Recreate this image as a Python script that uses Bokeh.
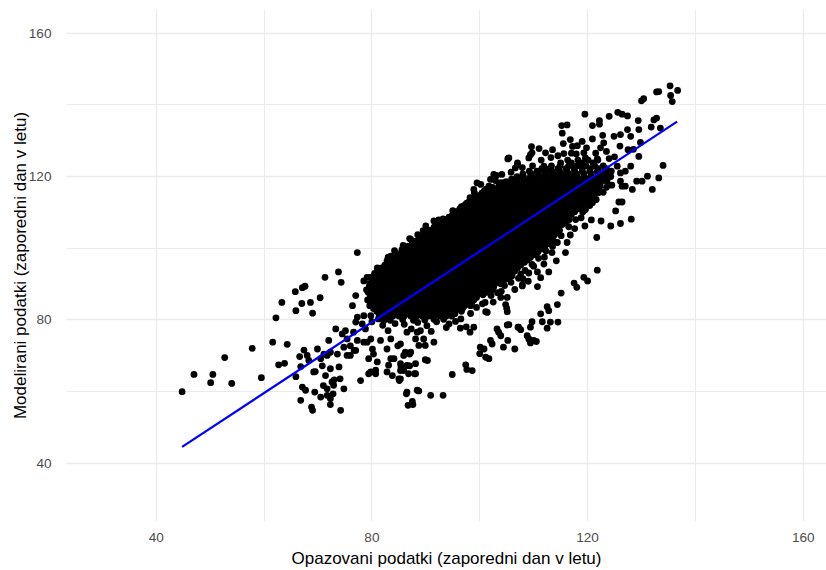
from bokeh.plotting import figure
from bokeh.models import FixedTicker
from bokeh.embed import file_html
from bokeh.resources import INLINE

# ---- axis ticks -------------------------------------------------------
x_ticks = [40, 80, 120, 160]
y_ticks = [40, 80, 120, 160]
minor_ticks = [20, 60, 100, 140]

# ---- fitted regression line -------------------------------------------
fit_obs = [44.8, 136.6]
fit_mod = [44.6, 135.3]

# ---- scattered points, (observed, modelled) ---------------------------
left_tail = [(44.8, 60.0), (47.0, 64.8), (50.1, 62.5), (50.5, 64.8), (52.7, 69.5),
             (54.0, 62.3), (57.8, 72.1), (59.5, 63.9), (61.6, 73.8), (62.2, 80.6),
             (63.3, 84.9), (62.7, 67.5), (63.8, 67.9), (64.3, 73.2)]

upper_left = [(65.8, 87.9), (65.9, 82.6), (67.0, 84.6), (67.6, 89.4), (67.1, 89.0),
              (68.6, 84.9), (69.0, 81.9), (70.4, 86.2), (74.3, 90.5), (71.3, 91.9),
              (73.8, 93.4), (77.3, 98.8), (77.0, 86.8), (76.4, 84.0), (77.3, 80.8),
              (79.8, 81.2), (78.5, 90.9), (79.7, 91.9), (79.1, 91.9)]

low_cluster = [(65.9, 64.2), (66.6, 69.8), (66.8, 67.0), (66.8, 57.6), (67.4, 71.6),
               (67.1, 61.3), (67.7, 60.4), (68.0, 70.1), (68.3, 68.7), (69.0, 54.8),
               (68.8, 55.7), (69.4, 59.9), (69.5, 65.6), (69.9, 71.9), (70.5, 58.5),
               (70.8, 67.2), (71.0, 61.7), (71.1, 70.5), (71.4, 64.5), (71.7, 60.8),
               (72.0, 74.3), (72.3, 66.4), (72.6, 62.7), (72.8, 59.4), (72.3, 56.4),
               (73.0, 63.3), (73.3, 77.5), (73.6, 70.5), (73.9, 66.9), (74.1, 63.6),
               (74.2, 54.8), (74.5, 76.1), (74.8, 60.8), (75.1, 77.0), (75.4, 70.1),
               (76.0, 72.8), (76.7, 71.5), (77.0, 79.4), (77.3, 74.3), (77.9, 63.1),
               (78.2, 78.9), (78.5, 81.2), (78.8, 77.5), (79.1, 73.8), (79.4, 69.2),
               (79.8, 65.5), (71.7, 59.0), (72.3, 58.1), (72.9, 61.8), (69.2, 65.5),
               (70.5, 69.2), (71.7, 70.1), (72.3, 71.0), (74.8, 72.4), (75.4, 74.7),
               (76.6, 76.6), (76.0, 70.1), (77.0, 71.5), (78.5, 73.8), (79.8, 74.7)]

mid_low = [(80.3, 70.5), (80.7, 66.0), (81.0, 68.3), (81.6, 74.3), (82.2, 79.8),
           (82.8, 71.9), (83.1, 67.4), (83.5, 74.7), (83.8, 64.5), (84.1, 69.2),
           (84.8, 72.8), (85.1, 63.1), (85.4, 66.9), (86.4, 59.4), (86.7, 56.2),
           (87.6, 56.4), (87.0, 70.5), (87.9, 65.0), (88.4, 60.4), (80.1, 71.9),
           (83.5, 69.2), (85.9, 70.1), (87.2, 71.0), (88.7, 72.9), (89.6, 74.7),
           (90.3, 68.7), (88.1, 67.8), (86.5, 67.3), (85.3, 67.8), (82.8, 65.5),
           (85.3, 65.9), (86.8, 65.0), (88.1, 65.0), (85.0, 63.6), (79.4, 65.0),
           (80.7, 65.0), (86.5, 59.9), (87.5, 57.3), (88.7, 60.2), (85.3, 63.6),
           (87.0, 67.2), (89.9, 68.9), (85.9, 65.9), (91.5, 73.8), (88.1, 74.7),
           (88.4, 76.6), (89.9, 72.9), (86.2, 71.0), (85.3, 73.3), (86.5, 76.6),
           (89.0, 77.0), (90.9, 59.0), (93.2, 59.0), (94.3, 78.9), (96.4, 77.7),
           (97.5, 78.1), (98.2, 76.6)]

core_fringe = [(82.0, 78.5), (84.3, 79.0), (86.0, 78.8), (88.5, 79.3), (90.2, 78.4),
               (92.0, 79.5), (93.8, 77.9), (95.5, 79.6), (91.0, 76.8), (87.3, 77.5),
               (83.0, 77.0), (80.0, 79.5), (100.5, 84.5), (102.5, 85.0), (104.0, 88.0),
               (106.5, 88.5), (108.0, 91.5), (110.0, 95.0), (112.0, 97.5), (113.5, 100.5),
               (109.0, 90.8), (104.8, 84.3), (111.3, 91.8), (114.2, 96.5), (116.8, 103.7),
               (117.6, 105.5), (118.8, 108.5), (119.6, 110.8), (117.8, 112.0), (122.0, 115.5),
               (123.5, 117.0), (88.5, 103.8), (90.0, 106.2), (92.4, 107.9), (95.0, 110.5),
               (99.0, 115.5), (100.2, 117.8), (89.5, 104.9), (83.5, 97.8), (81.0, 94.5),
               (80.5, 93.0), (81.2, 80.3), (83.4, 79.9), (85.7, 80.1), (87.7, 79.9),
               (89.8, 80.0), (91.5, 80.2), (93.3, 80.2)]

top_fringe = [(83.0, 97.5), (84.2, 99.3), (85.8, 100.8), (87.5, 101.5), (88.8, 103.0),
              (90.3, 104.8), (91.8, 106.9), (93.2, 108.2), (94.9, 109.1), (96.6, 111.6),
              (98.0, 112.9), (99.6, 114.5), (101.2, 116.5), (102.9, 118.9), (104.1, 120.6),
              (105.8, 121.2), (107.9, 122.5), (109.8, 123.0), (111.4, 124.6), (113.2, 125.3),
              (115.6, 126.4), (117.9, 126.3), (119.6, 125.2), (121.8, 124.9), (124.0, 125.0)]

bottom_fringe = [(96.5, 80.3), (98.3, 81.8), (99.4, 83.5), (101.0, 84.9), (102.1, 86.8),
                 (103.3, 87.6), (104.6, 89.6), (105.8, 90.5), (107.2, 91.6), (108.4, 93.8),
                 (109.7, 95.5), (110.9, 97.2), (112.3, 99.2), (113.8, 101.8), (115.1, 103.5),
                 (116.5, 106.0), (117.8, 108.0), (119.1, 110.1), (120.4, 111.9), (121.6, 113.6),
                 (122.9, 115.6), (124.5, 117.6)]

low_arm = [(94.9, 64.8), (97.4, 67.5), (97.6, 66.2), (98.6, 65.9), (100.1, 72.4),
           (100.0, 70.6), (100.8, 71.9), (101.1, 69.6), (101.7, 69.2), (102.0, 74.3),
           (102.3, 73.3), (103.2, 77.5), (103.5, 76.6), (103.9, 75.6), (104.4, 72.4),
           (105.2, 74.3), (106.5, 71.9), (105.4, 78.7), (107.1, 78.0), (107.6, 77.3),
           (108.8, 75.6), (109.1, 74.7), (109.4, 73.6), (110.0, 74.3), (110.5, 74.0),
           (109.4, 78.0), (109.7, 79.5), (111.6, 79.5), (112.5, 77.7), (111.3, 81.7),
           (112.5, 83.7), (112.8, 82.6), (114.4, 84.3), (114.5, 79.4), (115.1, 87.5),
           (117.5, 90.3), (118.0, 89.1), (119.3, 91.9), (120.0, 90.9), (121.8, 93.9),
           (110.7, 89.3), (107.9, 89.8), (105.0, 83.3), (105.1, 82.3), (103.9, 86.3),
           (101.1, 82.3), (105.1, 78.6), (107.2, 78.0), (105.1, 86.3), (107.6, 92.8),
           (110.7, 93.4), (112.8, 93.4), (109.1, 93.1), (101.4, 82.1), (98.9, 78.0),
           (106.0, 92.3), (107.9, 89.5), (111.9, 95.6), (113.1, 79.4)]

below_right = [(114.1, 106.7), (115.6, 107.1), (116.2, 101.6), (114.4, 101.6), (112.5, 104.4),
               (113.4, 98.8), (115.9, 98.8), (115.0, 109.9), (114.0, 105.3), (120.7, 107.9),
               (119.5, 106.2), (122.5, 107.6), (124.3, 106.2), (121.7, 103.0), (120.9, 112.7),
               (120.7, 114.1), (126.1, 106.9), (128.1, 108.1), (125.2, 110.4), (125.8, 112.9),
               (126.4, 112.9), (126.1, 118.7), (123.6, 119.2), (126.4, 117.3), (127.0, 117.3),
               (128.3, 116.4), (132.0, 116.4), (129.1, 118.7), (130.1, 118.7), (131.1, 120.1),
               (133.2, 119.6), (134.0, 123.1), (126.1, 121.0), (127.0, 121.5), (125.5, 122.9),
               (128.0, 122.9), (129.5, 125.6)]

upper_right = [(135.3, 145.3), (136.7, 144.0), (135.4, 142.6), (135.7, 140.9), (133.2, 143.7),
               (132.8, 143.6), (130.4, 141.7), (130.0, 141.1), (119.5, 137.4), (120.9, 134.2),
               (122.2, 135.6), (122.2, 134.6), (124.0, 136.8), (125.6, 137.9), (126.4, 137.4),
               (127.4, 136.9), (129.4, 135.6), (132.8, 136.3), (132.3, 135.8), (131.8, 133.8),
               (129.5, 133.1), (116.2, 134.4), (115.3, 132.1), (116.8, 130.3), (118.1, 128.6),
               (120.9, 130.5), (119.3, 126.6), (119.0, 129.8), (122.4, 128.0), (123.0, 129.4),
               (124.9, 131.2), (126.1, 131.7), (127.4, 133.1), (128.0, 131.2), (129.8, 129.5),
               (133.5, 133.5), (115.5, 129.2), (117.2, 128.4), (115.2, 134.2), (109.6, 128.3),
               (112.2, 126.6), (109.1, 125.2), (109.7, 126.6), (105.2, 124.9), (107.0, 123.8),
               (105.4, 125.2), (109.4, 126.1), (111.9, 122.9), (121.5, 126.5), (123.5, 127.0),
               (125.0, 125.5), (127.5, 127.5), (126.0, 128.5), (122.8, 131.5), (119.8, 128.0),
               (117.0, 126.5), (113.5, 127.5), (114.5, 125.8), (111.0, 127.8), (128.5, 127.6)]

upper_edge = [(103.1, 120.3), (99.5, 118.2), (98.2, 114.1), (106.6, 122.4), (91.5, 107.6),
              (91.4, 104.4), (94.6, 106.2), (98.9, 116.4), (101.7, 117.3), (102.0, 119.2),
              (103.9, 118.3), (97.4, 112.2), (96.1, 109.4), (92.7, 105.8), (93.6, 104.4),
              (87.2, 102.5), (85.6, 99.7), (84.7, 96.9), (82.8, 96.5), (81.9, 92.3),
              (96.1, 109.9), (97.7, 112.2), (100.8, 115.9), (102.6, 120.6), (104.5, 118.3),
              (107.0, 123.3), (94.3, 105.3), (87.0, 102.7), (86.2, 97.9), (84.7, 95.1)]

# ---- dense core, read as rows: one modelled value per row, observed values
core_mod = [81.1, 82.4, 84.0, 85.6, 87.0, 88.4, 90.1, 91.5, 92.9, 94.5,
            96.1, 97.4, 99.0, 100.6, 102.0, 103.4, 105.0, 106.6, 108.0, 109.4,
            111.0, 112.6, 114.0, 115.4, 117.0, 118.6, 120.0, 121.5, 123.0, 124.6]

core_obs = [
    [81.6, 82.7, 83.9, 85.0, 86.0, 87.2, 88.3, 89.3, 90.5, 91.6, 92.6, 93.8, 94.8],
    [80.9, 82.1, 83.3, 84.3, 85.5, 86.6, 87.6, 88.8, 89.9, 91.1, 92.1, 93.2, 94.4, 95.4, 96.6],
    [79.6, 80.7, 81.8, 82.9, 84.0, 85.1, 86.2, 87.3, 88.4, 89.5, 90.6, 91.8, 92.8, 93.9, 95.0, 96.1, 97.2, 98.3],
    [79.2, 80.2, 81.4, 82.4, 83.6, 84.6, 85.7, 86.8, 87.9, 89.0, 90.1, 91.2, 92.3, 93.4, 94.5, 95.6, 96.7, 97.8, 98.9],
    [79.8, 80.9, 82.0, 83.1, 84.1, 85.3, 86.3, 87.4, 88.5, 89.6, 90.7, 91.8, 92.9, 94.0, 95.0, 96.2, 97.3, 98.3, 99.5, 100.6],
    [79.0, 80.3, 81.4, 82.5, 83.5, 84.7, 85.8, 86.9, 88.0, 89.1, 90.2, 91.3, 92.4, 93.4, 94.6, 95.7, 96.8, 97.8, 99.0, 100.1, 101.1, 102.3],
    [79.6, 80.8, 81.9, 83.0, 84.1, 85.2, 86.3, 87.4, 88.5, 89.6, 90.7, 91.9, 92.9, 94.0, 95.1, 96.2, 97.3, 98.4, 99.5, 100.6, 101.7, 102.8, 103.9],
    [80.1, 81.2, 82.4, 83.4, 84.6, 85.6, 86.8, 87.9, 89.0, 90.1, 91.2, 92.2, 93.4, 94.5, 95.5, 96.7, 97.8, 98.8, 100.0, 101.1, 102.2, 103.3, 104.3, 105.4],
    [80.9, 81.9, 83.0, 84.1, 85.2, 86.3, 87.3, 88.5, 89.6, 90.6, 91.8, 92.8, 93.9, 95.0, 96.1, 97.2, 98.3, 99.4, 100.5, 101.6, 102.7, 103.8, 104.9, 106.0],
    [81.8, 82.8, 84.0, 85.0, 86.2, 87.2, 88.3, 89.4, 90.5, 91.6, 92.7, 93.8, 94.9, 96.0, 97.1, 98.2, 99.3, 100.4, 101.5, 102.6, 103.7, 104.8, 105.9, 107.0],
    [83.0, 84.1, 85.2, 86.3, 87.4, 88.5, 89.6, 90.7, 91.8, 92.9, 94.0, 95.1, 96.2, 97.3, 98.4, 99.5, 100.6, 101.7, 102.8, 103.9, 105.0, 106.1, 107.2, 108.3],
    [84.2, 85.3, 86.3, 87.4, 88.6, 89.6, 90.8, 91.8, 92.9, 94.1, 95.1, 96.2, 97.3, 98.4, 99.5, 100.6, 101.7, 102.8, 103.9, 105.0, 106.1, 107.2, 108.3, 109.4],
    [85.5, 86.6, 87.7, 88.8, 89.9, 91.0, 92.0, 93.2, 94.3, 95.3, 96.5, 97.6, 98.6, 99.8, 100.9, 101.9, 103.1, 104.2, 105.2, 106.4, 107.5, 108.5, 109.7, 110.8],
    [86.8, 88.0, 89.1, 90.1, 91.3, 92.4, 93.4, 94.6, 95.7, 96.7, 97.9, 99.0, 100.0, 101.2, 102.3, 103.3, 104.5, 105.6, 106.6, 107.8, 108.9, 109.9, 111.1, 112.1],
    [88.2, 89.3, 90.3, 91.5, 92.6, 93.6, 94.8, 95.9, 96.9, 98.1, 99.2, 100.2, 101.4, 102.5, 103.5, 104.7, 105.8, 106.8, 108.0, 109.1, 110.1, 111.3, 112.4, 113.2],
    [89.5, 90.6, 91.7, 92.8, 93.9, 95.0, 96.1, 97.2, 98.3, 99.4, 100.5, 101.6, 102.7, 103.8, 104.9, 106.0, 107.1, 108.2, 109.3, 110.4, 111.5, 112.6, 113.7],
    [90.8, 91.9, 93.0, 94.0, 95.2, 96.3, 97.3, 98.5, 99.6, 100.6, 101.8, 102.9, 103.9, 105.1, 106.2, 107.2, 108.4, 109.5, 110.5, 111.7, 112.8, 113.8, 114.8],
    [92.2, 93.3, 94.3, 95.5, 96.6, 97.6, 98.8, 99.9, 100.9, 102.1, 103.2, 104.2, 105.4, 106.5, 107.5, 108.7, 109.8, 110.8, 112.0, 113.1, 114.1, 115.3],
    [93.6, 94.7, 95.8, 96.8, 98.0, 99.1, 100.1, 101.3, 102.4, 103.4, 104.6, 105.7, 106.7, 107.9, 109.0, 110.0, 111.2, 112.3, 113.3, 114.5, 115.6, 116.6],
    [95.0, 96.1, 97.1, 98.3, 99.4, 100.4, 101.6, 102.7, 103.7, 104.9, 106.0, 107.0, 108.2, 109.3, 110.3, 111.5, 112.6, 113.6, 114.8, 115.9, 117.0],
    [96.3, 97.4, 98.4, 99.6, 100.7, 101.7, 102.9, 104.0, 105.0, 106.2, 107.3, 108.3, 109.5, 110.6, 111.6, 112.8, 113.9, 114.9, 116.1, 117.2, 118.3],
    [97.6, 98.7, 99.8, 100.8, 102.0, 103.1, 104.1, 105.3, 106.4, 107.4, 108.6, 109.7, 110.7, 111.9, 113.0, 114.0, 115.2, 116.3, 117.3, 118.5, 119.5],
    [98.9, 100.0, 101.0, 102.2, 103.3, 104.3, 105.5, 106.6, 107.6, 108.8, 109.9, 110.9, 112.1, 113.2, 114.2, 115.4, 116.5, 117.5, 118.7, 119.8, 120.8],
    [100.4, 101.5, 102.5, 103.7, 104.8, 105.8, 107.0, 108.1, 109.1, 110.3, 111.4, 112.4, 113.6, 114.7, 115.7, 116.9, 118.0, 119.0, 120.2, 121.3],
    [102.4, 103.5, 104.5, 105.7, 106.8, 107.8, 109.0, 110.1, 111.1, 112.3, 113.4, 114.4, 115.6, 116.7, 117.7, 118.9, 120.0, 121.0, 122.2],
    [104.9, 106.0, 107.0, 108.2, 109.3, 110.3, 111.5, 112.6, 113.6, 114.8, 115.9, 116.9, 118.1, 119.2, 120.2, 121.4, 122.5, 123.6],
    [106.9, 108.1, 109.4, 110.6, 111.9, 113.1, 114.4, 115.6, 116.9, 118.1, 119.4, 120.6, 121.9, 123.1, 124.3],
    [109.2, 110.6, 112.0, 113.4, 114.8, 116.2, 117.6, 119.0, 120.4, 121.8, 123.2, 124.4],
    [113.3, 114.9, 116.5, 118.1, 119.7, 121.3, 122.9],
    [116.3, 118.2, 120.1, 121.9],
]

# second, offset set of core rows (the core is solid black in the picture)
core_mod_b = [81.75, 83.2, 84.8, 86.3, 87.7, 89.25, 90.8, 92.2, 93.7, 95.3,
              96.75, 98.2, 99.8, 101.3, 102.7, 104.2, 105.8, 107.3, 108.7, 110.2,
              111.8, 113.3, 114.7, 116.2, 117.8, 119.3, 120.75, 122.2, 123.8]

core_obs_b = [
    [81.3, 82.2, 83.4, 84.5, 85.6, 86.6, 87.8, 88.9, 89.9, 91.0, 92.2, 93.3, 94.3, 95.4],
    [80.3, 81.4, 82.5, 83.6, 84.7, 85.8, 86.9, 88.0, 89.1, 90.2, 91.3, 92.4, 93.5, 94.6, 95.7, 96.8],
    [79.9, 81.0, 82.1, 83.2, 84.3, 85.4, 86.5, 87.6, 88.7, 89.8, 90.9, 92.0, 93.1, 94.2, 95.3, 96.4, 97.5, 98.5],
    [79.7, 80.8, 81.9, 83.0, 84.1, 85.2, 86.3, 87.4, 88.5, 89.6, 90.7, 91.8, 92.9, 93.9, 95.1, 96.1, 97.2, 98.3, 99.4],
    [79.3, 80.4, 81.5, 82.6, 83.7, 84.8, 85.9, 87.0, 88.1, 89.2, 90.3, 91.4, 92.5, 93.6, 94.7, 95.8, 96.9, 98.0, 99.1, 100.2, 101.3],
    [79.5, 80.6, 81.7, 82.8, 83.9, 85.0, 86.1, 87.2, 88.3, 89.4, 90.5, 91.6, 92.7, 93.8, 94.9, 96.0, 97.1, 98.2, 99.3, 100.4, 101.5, 102.6],
    [80.2, 81.3, 82.4, 83.5, 84.6, 85.7, 86.8, 87.9, 89.0, 90.1, 91.2, 92.3, 93.4, 94.5, 95.6, 96.7, 97.8, 98.9, 100.0, 101.1, 102.2, 103.3, 104.4],
    [80.6, 81.7, 82.8, 83.9, 85.0, 86.1, 87.2, 88.3, 89.4, 90.5, 91.6, 92.7, 93.8, 94.9, 96.0, 97.1, 98.2, 99.3, 100.4, 101.5, 102.6, 103.7, 104.8, 105.7],
    [81.4, 82.5, 83.6, 84.7, 85.8, 86.9, 88.0, 89.1, 90.2, 91.3, 92.4, 93.5, 94.6, 95.7, 96.8, 97.9, 99.0, 100.1, 101.2, 102.3, 103.4, 104.5, 105.6, 106.5],
    [82.4, 83.5, 84.6, 85.7, 86.8, 87.9, 89.0, 90.1, 91.2, 92.3, 93.4, 94.5, 95.6, 96.7, 97.8, 98.9, 100.0, 101.1, 102.2, 103.3, 104.4, 105.5, 106.6, 107.6],
    [83.6, 84.7, 85.8, 86.9, 88.0, 89.1, 90.2, 91.3, 92.4, 93.5, 94.6, 95.7, 96.8, 97.9, 99.0, 100.1, 101.2, 102.3, 103.4, 104.5, 105.6, 106.7, 107.8, 108.8],
    [84.8, 85.9, 87.0, 88.1, 89.2, 90.3, 91.4, 92.5, 93.6, 94.7, 95.8, 96.9, 98.0, 99.1, 100.2, 101.3, 102.4, 103.5, 104.6, 105.7, 106.8, 107.9, 109.0, 110.1],
    [86.2, 87.3, 88.4, 89.5, 90.6, 91.7, 92.8, 93.9, 95.0, 96.1, 97.2, 98.3, 99.4, 100.5, 101.6, 102.7, 103.8, 104.9, 106.0, 107.1, 108.2, 109.3, 110.4, 111.5],
    [87.5, 88.6, 89.7, 90.8, 91.9, 93.0, 94.1, 95.2, 96.3, 97.4, 98.5, 99.6, 100.7, 101.8, 102.9, 104.0, 105.1, 106.2, 107.3, 108.4, 109.5, 110.6, 111.7, 112.7],
    [88.9, 90.0, 91.1, 92.2, 93.3, 94.4, 95.5, 96.6, 97.7, 98.8, 99.9, 101.0, 102.1, 103.2, 104.3, 105.4, 106.5, 107.6, 108.7, 109.8, 110.9, 112.0, 113.1],
    [90.2, 91.3, 92.4, 93.5, 94.6, 95.7, 96.8, 97.9, 99.0, 100.1, 101.2, 102.3, 103.4, 104.5, 105.6, 106.7, 107.8, 108.9, 110.0, 111.1, 112.2, 113.3, 114.3],
    [91.5, 92.6, 93.7, 94.8, 95.9, 97.0, 98.1, 99.2, 100.3, 101.4, 102.5, 103.6, 104.7, 105.8, 106.9, 108.0, 109.1, 110.2, 111.3, 112.4, 113.5, 114.6],
    [92.9, 94.0, 95.1, 96.2, 97.3, 98.4, 99.5, 100.6, 101.7, 102.8, 103.9, 105.0, 106.1, 107.2, 108.3, 109.4, 110.5, 111.6, 112.7, 113.8, 114.9, 116.0],
    [94.3, 95.4, 96.5, 97.6, 98.7, 99.8, 100.9, 102.0, 103.1, 104.2, 105.3, 106.4, 107.5, 108.6, 109.7, 110.8, 111.9, 113.0, 114.1, 115.2, 116.3],
    [95.6, 96.7, 97.8, 98.9, 100.0, 101.1, 102.2, 103.3, 104.4, 105.5, 106.6, 107.7, 108.8, 109.9, 111.0, 112.1, 113.2, 114.3, 115.4, 116.5, 117.6],
    [97.0, 98.1, 99.2, 100.3, 101.4, 102.5, 103.6, 104.7, 105.8, 106.9, 108.0, 109.1, 110.2, 111.3, 112.4, 113.5, 114.6, 115.7, 116.8, 117.9, 118.9],
    [98.3, 99.4, 100.5, 101.6, 102.7, 103.8, 104.9, 106.0, 107.1, 108.2, 109.3, 110.4, 111.5, 112.6, 113.7, 114.8, 115.9, 117.0, 118.1, 119.2, 120.1],
    [99.7, 100.8, 101.9, 103.0, 104.1, 105.2, 106.3, 107.4, 108.5, 109.6, 110.7, 111.8, 112.9, 114.0, 115.1, 116.2, 117.3, 118.4, 119.5, 120.6],
    [101.4, 102.5, 103.6, 104.7, 105.8, 106.9, 108.0, 109.1, 110.2, 111.3, 112.4, 113.5, 114.6, 115.7, 116.8, 117.9, 119.0, 120.1, 121.2],
    [103.6, 104.7, 105.8, 106.9, 108.0, 109.1, 110.2, 111.3, 112.4, 113.5, 114.6, 115.7, 116.8, 117.9, 119.0, 120.1, 121.2, 122.3],
    [105.9, 107.0, 108.1, 109.2, 110.3, 111.4, 112.5, 113.6, 114.7, 115.8, 116.9, 118.0, 119.1, 120.2, 121.3, 122.4, 123.5],
    [108.0, 109.5, 110.9, 112.3, 113.7, 115.1, 116.5, 117.9, 119.3, 120.7, 122.1, 123.5],
    [111.5, 113.0, 114.5, 116.0, 117.5, 119.0, 120.5, 122.0, 123.5],
    [115.0, 117.0, 119.0, 121.0],
]

x_title = "Opazovani podatki (zaporedni dan v letu)"
y_title = "Modelirani podatki (zaporedni dan v letu)"

# ---- assemble point columns ------------------------------------------
obs, mod = [], []
for group in (left_tail, upper_left, low_cluster, mid_low, core_fringe, top_fringe,
              bottom_fringe, low_arm, below_right, upper_right, upper_edge):
    for a, b in group:
        obs.append(a)
        mod.append(b)
for rows_y, rows_x in ((core_mod, core_obs), (core_mod_b, core_obs_b)):
    for yv, xs in zip(rows_y, rows_x):
        for xv in xs:
            obs.append(xv)
            mod.append(yv)

FONT = "Liberation Sans"

p = figure(width=826, height=570,
           x_range=(23.36, 164.31), y_range=(23.8, 166.58),
           output_backend="svg", toolbar_location=None,
           min_border_left=66, min_border_right=0,
           min_border_top=9, min_border_bottom=47)
p.background_fill_color = "white"
p.border_fill_color = "white"
p.outline_line_color = None

p.xaxis.ticker = FixedTicker(ticks=x_ticks, minor_ticks=minor_ticks)
p.yaxis.ticker = FixedTicker(ticks=y_ticks, minor_ticks=minor_ticks)

for g in (p.xgrid, p.ygrid):
    g.grid_line_color = "#EBEBEB"
    g.grid_line_width = 1.3
    g.minor_grid_line_color = "#EBEBEB"
    g.minor_grid_line_width = 1.0

p.axis.axis_line_color = None
p.axis.major_tick_line_color = None
p.axis.minor_tick_line_color = None
p.axis.major_label_text_font = FONT
p.axis.major_label_text_font_size = "13.6px"
p.axis.major_label_text_color = "#4D4D4D"
p.xaxis.major_label_standoff = 5
p.yaxis.major_label_standoff = 9

p.axis.axis_label_text_font = FONT
p.axis.axis_label_text_font_size = "17px"
p.axis.axis_label_text_font_style = "normal"
p.axis.axis_label_text_color = "black"
p.xaxis.axis_label = x_title
p.xaxis.axis_label_standoff = 4
p.yaxis.axis_label = y_title
p.yaxis.axis_label_standoff = -4

p.scatter(obs, mod, size=6.8, marker="circle", fill_color="black", line_color=None)
p.line(fit_obs, fit_mod, line_color="#0000FF", line_width=2.2)

open("out.html", "w").write(file_html(p, INLINE))
